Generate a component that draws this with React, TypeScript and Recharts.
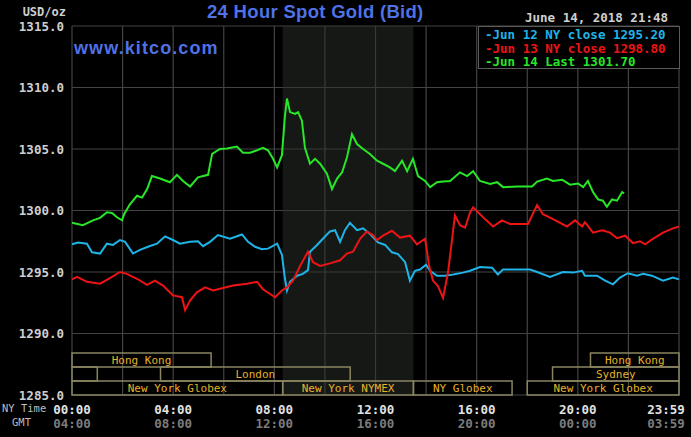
import {
  CartesianGrid,
  Line,
  LineChart,
  ReferenceArea,
  XAxis,
  YAxis,
} from "recharts";

// hours after NY midnight, and bid prices (USD/oz)
const jun12Hours = [
  0, 0.24, 0.59, 0.79, 1.11, 1.38, 1.62, 1.9, 2.1, 2.41, 2.69, 3.0, 3.36, 3.68, 3.99, 4.27, 4.67, 4.98,
  5.18, 5.46, 5.77, 6.25, 6.72, 6.96, 7.24, 7.51, 7.75, 8.11, 8.3, 8.42, 8.5, 8.62, 8.9, 9.13, 9.33, 9.41,
  9.69, 9.92, 10.2, 10.4, 10.6, 10.79, 10.99, 11.27, 11.51, 11.78, 12.1, 12.38, 12.65, 12.89, 13.17,
  13.36, 13.56, 13.76, 14.0, 14.16, 14.43, 14.75, 15.07, 15.46, 15.74, 16.13, 16.61, 16.84, 17.04, 17.6,
  18.11, 18.39, 18.9, 19.41, 19.81, 20.17, 20.28, 20.76, 21.08, 21.39, 21.67, 21.98, 22.34, 22.58, 22.93,
  23.37, 23.76, 24,
];
const jun12Prices = [
  1297.25, 1297.4, 1297.3, 1296.6, 1296.5, 1297.3, 1297.2, 1297.6, 1297.45, 1296.5, 1296.8, 1297.05,
  1297.3, 1297.9, 1297.6, 1297.3, 1297.45, 1297.5, 1297.1, 1297.45, 1298.0, 1297.7, 1298.05, 1297.45,
  1297.05, 1296.85, 1296.9, 1297.3, 1296.4, 1294.45, 1293.5, 1294.2, 1294.7, 1294.85, 1295.15, 1296.65,
  1297.2, 1297.7, 1298.3, 1298.4, 1297.45, 1298.4, 1299.0, 1298.4, 1298.55, 1298.1, 1297.4, 1297.2,
  1296.6, 1296.45, 1295.8, 1294.3, 1295.1, 1295.2, 1295.6, 1295.1, 1294.7, 1294.7, 1294.8, 1294.95,
  1295.1, 1295.4, 1295.35, 1294.8, 1295.2, 1295.2, 1295.2, 1295.0, 1294.6, 1295.0, 1294.95, 1295.1,
  1294.7, 1294.7, 1294.3, 1294.0, 1294.55, 1294.9, 1294.7, 1294.85, 1294.7, 1294.3, 1294.55, 1294.4,
];

const jun13Hours = [
  0, 0.2, 0.59, 1.11, 1.5, 1.9, 2.17, 2.57, 2.97, 3.28, 3.6, 3.99, 4.35, 4.47, 4.67, 4.94, 5.26, 5.58,
  5.97, 6.37, 6.92, 7.32, 7.55, 8.03, 8.3, 8.5, 8.74, 9.02, 9.33, 9.53, 9.81, 10.2, 10.6, 10.87, 11.11,
  11.39, 11.66, 11.9, 12.06, 12.3, 12.65, 12.97, 13.36, 13.64, 13.96, 14.12, 14.27, 14.47, 14.67, 14.87,
  15.03, 15.14, 15.34, 15.54, 15.74, 15.86, 16.05, 16.33, 16.65, 17.0, 17.32, 18.03, 18.39, 18.62, 19.02,
  19.57, 19.89, 20.17, 20.28, 20.6, 20.96, 21.27, 21.55, 21.87, 22.18, 22.46, 22.66, 22.97, 23.37, 23.76,
  24,
];
const jun13Prices = [
  1294.4, 1294.6, 1294.2, 1294.05, 1294.5, 1295.0, 1294.85, 1294.45, 1293.95, 1294.3, 1293.9, 1293.1,
  1292.95, 1291.9, 1292.7, 1293.35, 1293.75, 1293.5, 1293.7, 1293.9, 1294.05, 1294.2, 1293.6, 1292.95,
  1293.5, 1293.75, 1294.3, 1295.5, 1296.65, 1295.8, 1295.5, 1295.7, 1295.95, 1296.5, 1296.65, 1297.7,
  1298.3, 1298.0, 1297.6, 1297.95, 1298.35, 1297.8, 1297.95, 1297.25, 1297.7, 1295.5, 1294.3, 1293.85,
  1292.9, 1295.0, 1297.7, 1299.6, 1298.8, 1298.6, 1299.85, 1300.25, 1299.85, 1299.3, 1298.7, 1299.2,
  1298.9, 1298.9, 1300.45, 1299.7, 1299.3, 1298.7, 1299.2, 1298.7, 1299.05, 1298.2, 1298.4, 1298.2,
  1297.75, 1297.95, 1297.35, 1297.5, 1297.25, 1297.7, 1298.2, 1298.55, 1298.7,
];

const jun14Hours = [
  0, 0.43, 0.83, 1.11, 1.38, 1.58, 1.78, 1.98, 2.06, 2.29, 2.57, 2.77, 2.97, 3.16, 3.48, 3.87, 4.15, 4.39,
  4.67, 4.98, 5.38, 5.54, 5.85, 6.13, 6.52, 6.76, 7.04, 7.32, 7.55, 7.75, 7.95, 8.11, 8.3, 8.42, 8.5,
  8.62, 8.82, 8.94, 9.09, 9.21, 9.41, 9.61, 9.81, 10.08, 10.28, 10.48, 10.68, 10.87, 11.07, 11.27, 11.51,
  11.78, 12.06, 12.3, 12.57, 12.77, 13.05, 13.25, 13.48, 13.68, 13.96, 14.16, 14.43, 14.67, 14.95, 15.34,
  15.62, 15.86, 16.13, 16.53, 16.81, 17.04, 17.6, 18.19, 18.39, 18.78, 19.02, 19.38, 19.69, 20.01, 20.21,
  20.4, 20.6, 20.8, 20.99, 21.15, 21.35, 21.55, 21.75, 21.83,
];
const jun14Prices = [
  1299.0, 1298.8, 1299.2, 1299.4, 1299.85, 1299.8, 1299.45, 1299.2, 1299.7, 1300.5, 1301.2, 1301.05,
  1301.75, 1302.8, 1302.6, 1302.3, 1302.9, 1302.4, 1301.95, 1302.7, 1302.9, 1304.6, 1305.0, 1305.05,
  1305.2, 1304.7, 1304.7, 1304.9, 1305.1, 1304.9, 1304.2, 1303.5, 1304.5, 1307.7, 1309.1, 1308.0,
  1307.85, 1308.0, 1307.3, 1305.1, 1303.8, 1304.2, 1303.8, 1303.0, 1301.75, 1302.6, 1303.1, 1304.3,
  1306.2, 1305.4, 1305.0, 1304.6, 1304.05, 1303.8, 1303.5, 1303.2, 1304.05, 1303.2, 1304.2, 1302.8,
  1302.4, 1301.9, 1302.3, 1302.35, 1302.4, 1303.1, 1302.8, 1303.2, 1302.4, 1302.15, 1302.3, 1301.9,
  1301.95, 1301.95, 1302.35, 1302.6, 1302.4, 1302.5, 1302.1, 1302.2, 1301.9, 1302.4, 1301.5, 1300.9,
  1300.8, 1300.3, 1300.9, 1300.8, 1301.5, 1301.4,
];

const gridHours = [0, 2, 4, 6, 8, 10, 12, 14, 16, 18, 20, 22, 24];
const labelHours = [0, 4, 8, 12, 16, 20, 24];
const nyTimeLabels = ["00:00", "04:00", "08:00", "12:00", "16:00", "20:00", "23:59"];
const gmtLabels = ["04:00", "08:00", "12:00", "16:00", "20:00", "00:00", "03:59"];
const priceTicks = [1285, 1290, 1295, 1300, 1305, 1310, 1315];

const legendItems = [
  { text: "Jun 12 NY close 1295.20", color: "#1fb4e8" },
  { text: "Jun 13 NY close 1298.80", color: "#ec1414" },
  { text: "Jun 14 Last 1301.70", color: "#28e628" },
];

// NYMEX pit session (shaded)
const pitSession = [8.33, 13.5];

// market sessions; row 0 = Asia, 1 = Sydney/London, 2 = New York
const sessions = [
  { name: "Hong Kong", row: 0, start: 0, end: 5.5 },
  { name: "Hong Kong", row: 0, start: 20.5, end: 24 },
  { name: "Sydney", row: 1, start: 0, end: 1 },
  { name: "London", row: 1, start: 3.5, end: 11 },
  { name: "Sydney", row: 1, start: 19, end: 24 },
  { name: "New York Globex", row: 2, start: 0, end: 8.33 },
  { name: "New York NYMEX", row: 2, start: 8.33, end: 13.5 },
  { name: "NY Globex", row: 2, start: 13.5, end: 17.4 },
  { name: "New York Globex", row: 2, start: 18, end: 24 },
];

const mono = "'DejaVu Sans Mono', monospace";
const sans = "'Liberation Sans', Arial, sans-serif";
const ROW_H = 1.14; // price units per session row

const toPoints = (hours: number[], prices: number[]) =>
  hours.map((t, i) => ({ t, p: prices[i] }));

const YTick = ({ x, y, payload }: any) => (
  <text x={x - 6} y={y + 4.5} textAnchor="end" fill="#cfcfcf" fontFamily={mono} fontWeight="bold" fontSize={12.5}>
    {payload.value.toFixed(1)}
  </text>
);

const XTick = ({ x, y, payload }: any) => {
  const i = labelHours.indexOf(payload.value);
  if (i < 0) return null;
  const last = i === labelHours.length - 1;
  const tx = last ? x - 13 : x;
  return (
    <g>
      <text x={tx} y={y + 19} textAnchor="middle" fill="#e2e2e2" fontFamily={mono} fontWeight="bold" fontSize={12.5}>
        {nyTimeLabels[i]}
      </text>
      <text x={tx} y={y + 33} textAnchor="middle" fill="#7c7c7c" fontFamily={mono} fontWeight="bold" fontSize={12.5}>
        {gmtLabels[i]}
      </text>
    </g>
  );
};

export default function App() {
  return (
    <div style={{ position: "relative", width: 691, height: 437, background: "#000" }}>
      <style>{"body{margin:0;background:#000}"}</style>
      <LineChart width={691} height={437} margin={{ top: 26, right: 12, left: 0, bottom: 0 }}>
        <CartesianGrid stroke="#444" strokeWidth={1.2} />
        <ReferenceArea
          x1={pitSession[0]}
          x2={pitSession[1]}
          y1={1285}
          y2={1315}
          fill="#2c302c"
          fillOpacity={0.5}
          stroke="none"
        />
        <XAxis
          dataKey="t"
          type="number"
          domain={[0, 24]}
          ticks={gridHours}
          interval={0}
          height={42}
          axisLine={false}
          tickLine={false}
          tickSize={0}
          tickMargin={0}
          tick={<XTick />}
        />
        <YAxis
          type="number"
          domain={[1285, 1315]}
          ticks={priceTicks}
          width={72}
          axisLine={false}
          tickLine={false}
          tickSize={0}
          tick={<YTick />}
        />
        {sessions.map((s, i) => (
          <ReferenceArea
            key={i}
            x1={s.start}
            x2={s.end}
            y1={1285 + (2 - s.row) * ROW_H}
            y2={1285 + (3 - s.row) * ROW_H}
            fill="none"
            fillOpacity={0}
            stroke="#8a8560"
            strokeWidth={1.5}
            label={
              s.end - s.start > 1.5
                ? { value: s.name, position: "center", fill: "#e6b22a", fontSize: 11, fontFamily: mono }
                : undefined
            }
          />
        ))}
        <Line
          data={toPoints(jun12Hours, jun12Prices)}
          dataKey="p"
          stroke={legendItems[0].color}
          strokeWidth={2}
          dot={false}
          isAnimationActive={false}
        />
        <Line
          data={toPoints(jun13Hours, jun13Prices)}
          dataKey="p"
          stroke={legendItems[1].color}
          strokeWidth={2}
          dot={false}
          isAnimationActive={false}
        />
        <Line
          data={toPoints(jun14Hours, jun14Prices)}
          dataKey="p"
          stroke={legendItems[2].color}
          strokeWidth={2}
          dot={false}
          isAnimationActive={false}
        />
      </LineChart>

      <div style={{ position: "absolute", left: 0, top: 5, width: 66, textAlign: "right", color: "#cfcfcf", font: `bold 12px ${mono}` }}>
        USD/oz
      </div>
      <div style={{ position: "absolute", left: 207, top: 1, color: "#4f72e6", font: `bold 18.5px ${sans}`, letterSpacing: 0.3 }}>
        24 Hour Spot Gold (Bid)
      </div>
      <div style={{ position: "absolute", left: 74, top: 38, color: "#4f72e6", font: `bold 18px ${sans}`, letterSpacing: 1.1 }}>
        www.kitco.com
      </div>
      <div style={{ position: "absolute", right: 23, top: 10, color: "#d0d0d0", font: `bold 12.5px ${mono}` }}>
        June 14, 2018 21:48
      </div>
      <div
        style={{
          position: "absolute",
          left: 478,
          top: 26,
          width: 202,
          height: 43,
          border: "1px solid #5c5c5c",
          background: "#000",
          padding: "1px 0 0 6px",
          boxSizing: "border-box",
          font: `bold 12.5px ${mono}`,
          lineHeight: "13.5px",
        }}
      >
        {legendItems.map((d) => (
          <div key={d.text} style={{ color: d.color, whiteSpace: "nowrap" }}>
            -{d.text}
          </div>
        ))}
      </div>
      <div style={{ position: "absolute", left: 2, top: 402, color: "#bdbdbd", font: `10.5px ${mono}` }}>NY Time</div>
      <div style={{ position: "absolute", left: 12, top: 416, color: "#bdbdbd", font: `10.5px ${mono}` }}>GMT</div>
    </div>
  );
}
